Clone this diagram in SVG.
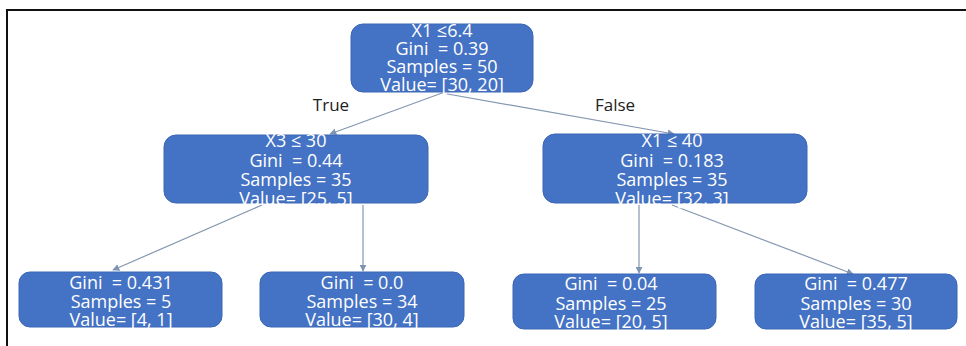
<svg xmlns="http://www.w3.org/2000/svg" width="966" height="346" viewBox="0 0 966 346">
<style>
.box{fill:#4472c4;stroke:#3b66b4;stroke-width:1}
.t{font-family:"Open Sans","Liberation Sans",sans-serif;font-size:18px;fill:#ffffff;text-anchor:middle;white-space:pre}
.lbl{font-family:"Open Sans","Liberation Sans",sans-serif;font-size:17px;fill:#222222;text-anchor:middle}
.edge{stroke:#8497b0;stroke-width:1.2;fill:none;marker-end:url(#ah)}
</style>
<defs>
<marker id="ah" viewBox="0 0 10 10" refX="9" refY="5" markerWidth="7" markerHeight="7" orient="auto" markerUnits="userSpaceOnUse">
<path d="M0,0 L10,5 L0,10 z" fill="#7f93b3"/>
</marker>
</defs>
<rect x="0" y="0" width="966" height="346" fill="#ffffff"/>
<g id="frame">
<path d="M7,346 V10 H966" fill="none" stroke="#111111" stroke-width="2"/>
</g>
<g id="connectors">
<line class="edge" x1="442" y1="93" x2="330" y2="134"/>
<line class="edge" x1="442" y1="93" x2="674" y2="134"/>
<line class="edge" x1="262" y1="205" x2="113" y2="270"/>
<line class="edge" x1="363" y1="205" x2="363" y2="271"/>
<line class="edge" x1="639" y1="205" x2="639" y2="273"/>
<line class="edge" x1="672" y1="205" x2="853" y2="274"/>
</g>
<g id="labels">
<text class="lbl" x="331" y="111">True</text>
<text class="lbl" x="615" y="111">False</text>
</g>
<g id="root">
<rect class="box" x="351" y="24" width="182" height="68" rx="12"/>
<text class="t" x="442" y="37">X1 ≤6.4</text>
<text class="t" x="442" y="55">Gini  = 0.39</text>
<text class="t" x="442" y="73">Samples = 50</text>
<text class="t" x="442" y="91">Value= [30, 20]</text>
</g>
<g id="n_left">
<rect class="box" x="164" y="135" width="264" height="68" rx="12"/>
<text class="t" x="296" y="146.5">X3 ≤ 30</text>
<text class="t" x="296" y="166.5">Gini  = 0.44</text>
<text class="t" x="296" y="185.5">Samples = 35</text>
<text class="t" x="296" y="204.5">Value= [25, 5]</text>
</g>
<g id="n_right">
<rect class="box" x="543" y="134" width="264" height="69" rx="12"/>
<text class="t" x="672" y="146.5">X1 ≤ 40</text>
<text class="t" x="672" y="167">Gini  = 0.183</text>
<text class="t" x="672" y="186">Samples = 35</text>
<text class="t" x="672" y="204.5">Value= [32, 3]</text>
</g>
<g id="leaf1">
<rect class="box" x="19" y="272" width="203" height="55" rx="11"/>
<text class="t" x="121" y="288.5">Gini  = 0.431</text>
<text class="t" x="121" y="307.5">Samples = 5</text>
<text class="t" x="121" y="325.5">Value= [4, 1]</text>
</g>
<g id="leaf2">
<rect class="box" x="260" y="272" width="204" height="55" rx="11"/>
<text class="t" x="362" y="288.5">Gini  = 0.0</text>
<text class="t" x="362" y="307.5">Samples = 34</text>
<text class="t" x="362" y="325.5">Value= [30, 4]</text>
</g>
<g id="leaf3">
<rect class="box" x="513" y="274" width="203" height="55" rx="11"/>
<text class="t" x="611" y="289.5">Gini  = 0.04</text>
<text class="t" x="611" y="309.5">Samples = 25</text>
<text class="t" x="611" y="327.5">Value= [20, 5]</text>
</g>
<g id="leaf4">
<rect class="box" x="755" y="274" width="202" height="55" rx="11"/>
<text class="t" x="856" y="289.5">Gini  = 0.477</text>
<text class="t" x="856" y="309.5">Samples = 30</text>
<text class="t" x="856" y="327.5">Value= [35, 5]</text>
</g>
</svg>
